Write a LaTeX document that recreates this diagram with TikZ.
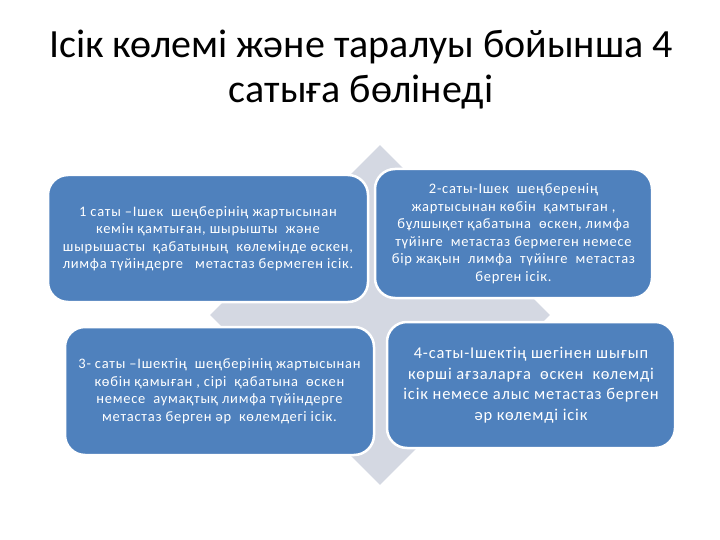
\documentclass[tikz,border=0pt]{standalone}
\usepackage{fontspec}
\setmainfont{Carlito}
\newfontfamily\stagefont[LetterSpace=5]{Carlito}
\usepackage{xcolor}
\usetikzlibrary{shapes.geometric}

\definecolor{stageblue}{RGB}{79,129,189}
\definecolor{rhombgray}{RGB}{212,216,226}

\tikzset{
  stage/.style={rectangle, rounded corners=20pt, fill=stageblue, draw=white,
    line width=2.5pt, text=white, align=center, inner sep=0pt,
    font=\stagefont\fontsize{14.5}{17.5}\selectfont},
  headline/.style={anchor=base, font=\fontsize{40}{45}\selectfont},
}

\begin{document}
\begin{tikzpicture}[x=1pt,y=-1pt]
  \useasboundingbox (0,0) rectangle (720,540); % slide size

  % title, two lines
  \node[headline] (title1) at (361,58) {Ісік көлемі және таралуы бойынша 4};
  \node[headline] (title2) at (361,103) {сатыға бөлінеді};

  % the diamond behind the stages
  \node[diamond, aspect=1, fill=rhombgray, minimum width=340pt,
    minimum height=340pt, inner sep=0pt] (rhomb) at (380,315) {};

  % the four stages
  \node[stage, minimum width=320pt, minimum height=127pt] (stage1) at (208,238.5)
    {1 саты –Ішек \ шеңберінің жартысынан\\кемін қамтыған, шырышты \ және\\
     шырышасты \ қабатының \ көлемінде өскен,\\лимфа түйіндерге \ \ метастаз бермеген ісік.};
  \node[stage, minimum width=277pt, minimum height=129pt] (stage2) at (513.5,233.5)
    {2-саты-Ішек \ шеңберенің\\жартысынан көбін \ қамтыған ,\\
     бұлшықет қабатына \ өскен, лимфа\\түйінге \ метастаз бермеген немесе\\
     бір жақын \ лимфа \ түйінге \ метастаз\\берген ісік.};
  \node[stage, minimum width=309pt, minimum height=128pt] (stage3) at (219.5,391)
    {3- саты –Ішектің \ шеңберінің жартысынан\\көбін қамыған , сірі \ қабатына \ өскен\\
     немесе \ аумақтық лимфа түйіндерге\\метастаз берген әр \ көлемдегі ісік.};
  \node[stage, minimum width=288pt, minimum height=126pt,
    font=\stagefont\fontsize{16.5}{20.5}\selectfont] (stage4) at (531,385)
    {4-саты-Ішектің шегінен шығып\\көрші ағзаларға \ өскен \ көлемді\\
     ісік немесе алыс метастаз берген\\әр көлемді ісік};
\end{tikzpicture}
\end{document}
